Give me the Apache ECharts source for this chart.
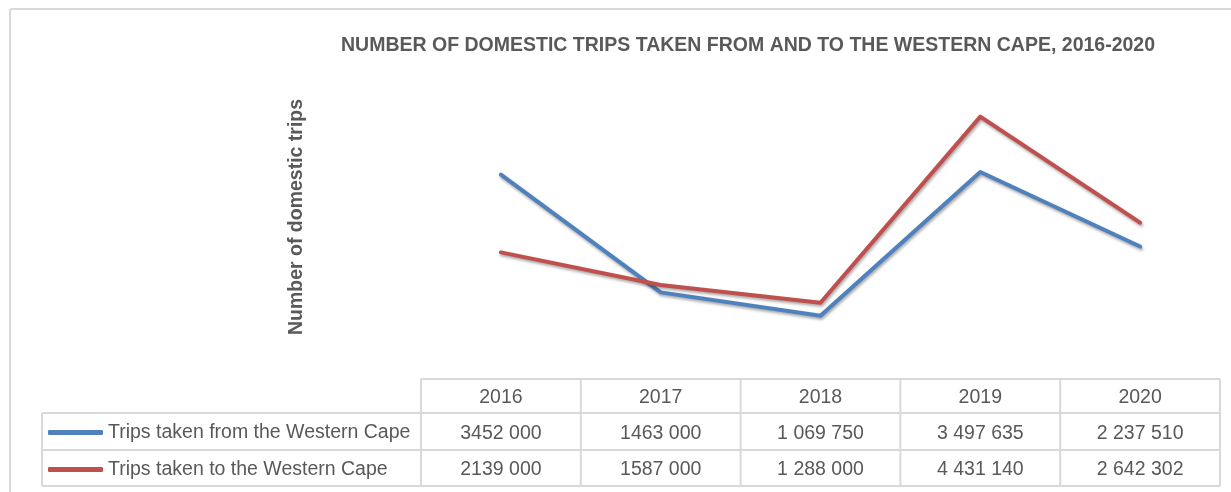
<!DOCTYPE html>
<html>
<head>
<meta charset="utf-8">
<script src="https://cdn.jsdelivr.net/npm/echarts@6/dist/echarts.min.js"></script>
<style>
html,body{margin:0;padding:0;background:#fff;}
#chart{width:1231px;height:492px;}
</style>
</head>
<body>
<div id="chart"></div>
<script>
var years = ['2016', '2017', '2018', '2019', '2020'];
var tripsFrom = [3452000, 1463000, 1069750, 3497635, 2237510];
var tripsTo = [2139000, 1587000, 1288000, 4431140, 2642302];
var tripsFromLabels = ['3452 000', '1463 000', '1 069 750', '3 497 635', '2 237 510'];
var tripsToLabels = ['2139 000', '1587 000', '1 288 000', '4 431 140', '2 642 302'];
var seriesNames = ['Trips taken from the Western Cape', 'Trips taken to the Western Cape'];

var FONT = '"Liberation Sans Narrow", "Liberation Sans", Arial, sans-serif';
var TXT = '#595959';
var BORDER = '#D9D9D9';
var gridLeft = 421, gridRight = 1220, gridTop = 83, gridBottomY = 379;
var rowY = [379, 413, 450, 486];
var legendLeft = 42;

var chart = echarts.init(document.getElementById('chart'));

function tableGraphics() {
  var g = [];
  var ls = {stroke: BORDER, lineWidth: 2};
  g.push({type: 'line', shape: {x1: 10, y1: 9, x2: 1231, y2: 9}, style: ls, silent: true});
  g.push({type: 'line', shape: {x1: 10, y1: 9, x2: 10, y2: 492}, style: ls, silent: true});
  g.push({type: 'line', shape: {x1: gridLeft, y1: rowY[0], x2: gridRight, y2: rowY[0]}, style: ls, silent: true});
  for (var i = 1; i < rowY.length; i++) {
    g.push({type: 'line', shape: {x1: legendLeft, y1: rowY[i], x2: gridRight, y2: rowY[i]}, style: ls, silent: true});
  }
  var n = years.length;
  var w = (gridRight - gridLeft) / n;
  for (var j = 0; j <= n; j++) {
    var x = gridLeft + j * w;
    g.push({type: 'line', shape: {x1: x, y1: rowY[0], x2: x, y2: rowY[3]}, style: ls, silent: true});
  }
  g.push({type: 'line', shape: {x1: legendLeft, y1: rowY[1], x2: legendLeft, y2: rowY[3]}, style: ls, silent: true});
  return g;
}

function xAxisRow(offset, labels) {
  return {
    type: 'category',
    data: years,
    boundaryGap: true,
    position: 'bottom',
    offset: offset,
    axisLine: {show: false},
    axisTick: {show: false},
    splitLine: {show: false},
    axisLabel: {
      show: true,
      margin: 9,
      fontFamily: FONT,
      fontSize: 19.5,
      color: TXT,
      interval: 0,
      formatter: function (v, idx) { return labels[idx]; }
    }
  };
}

var lineShadow = {shadowColor: 'rgba(0,0,0,0.35)', shadowBlur: 3, shadowOffsetX: 1, shadowOffsetY: 2};

chart.setOption({
  animation: false,
  backgroundColor: '#fff',
  title: {
    text: 'NUMBER OF DOMESTIC TRIPS TAKEN FROM AND TO THE WESTERN CAPE, 2016-2020',
    left: 336,
    top: 31,
    textStyle: {fontFamily: FONT, fontSize: 19.5, fontWeight: 'bold', color: TXT}
  },
  legend: {
    orient: 'vertical',
    left: 43,
    top: 417,
    itemGap: 16,
    itemWidth: 55,
    itemHeight: 5,
    icon: 'roundRect',
    selectedMode: false,
    data: seriesNames,
    textStyle: {fontFamily: FONT, fontSize: 19.5, color: TXT, lineHeight: 21}
  },
  grid: {left: gridLeft, right: 1231 - gridRight, top: gridTop, bottom: 492 - gridBottomY, containLabel: false},
  xAxis: [
    xAxisRow(0, years),
    xAxisRow(36, tripsFromLabels),
    xAxisRow(72, tripsToLabels)
  ],
  yAxis: {
    type: 'value',
    min: 0,
    max: 5000000,
    axisLine: {show: false},
    axisTick: {show: false},
    axisLabel: {show: false},
    splitLine: {show: false},
    name: 'Number of domestic trips',
    nameLocation: 'middle',
    nameRotate: 90,
    nameGap: 114,
    nameTextStyle: {fontFamily: FONT, fontSize: 19.5, fontWeight: 'bold', color: TXT, padding: [0, 0, 0, 28]}
  },
  graphic: tableGraphics(),
  series: [
    {
      name: seriesNames[0],
      type: 'line',
      data: tripsFrom,
      xAxisIndex: 0,
      symbol: 'none',
      color: '#4F81BD',
      lineStyle: Object.assign({width: 4, color: '#4F81BD', cap: 'round', join: 'round'}, lineShadow),
      itemStyle: {color: '#4F81BD'}
    },
    {
      name: seriesNames[1],
      type: 'line',
      data: tripsTo,
      xAxisIndex: 0,
      symbol: 'none',
      color: '#C0504D',
      lineStyle: Object.assign({width: 4, color: '#C0504D', cap: 'round', join: 'round'}, lineShadow),
      itemStyle: {color: '#C0504D'}
    }
  ]
});
</script>
</body>
</html>
